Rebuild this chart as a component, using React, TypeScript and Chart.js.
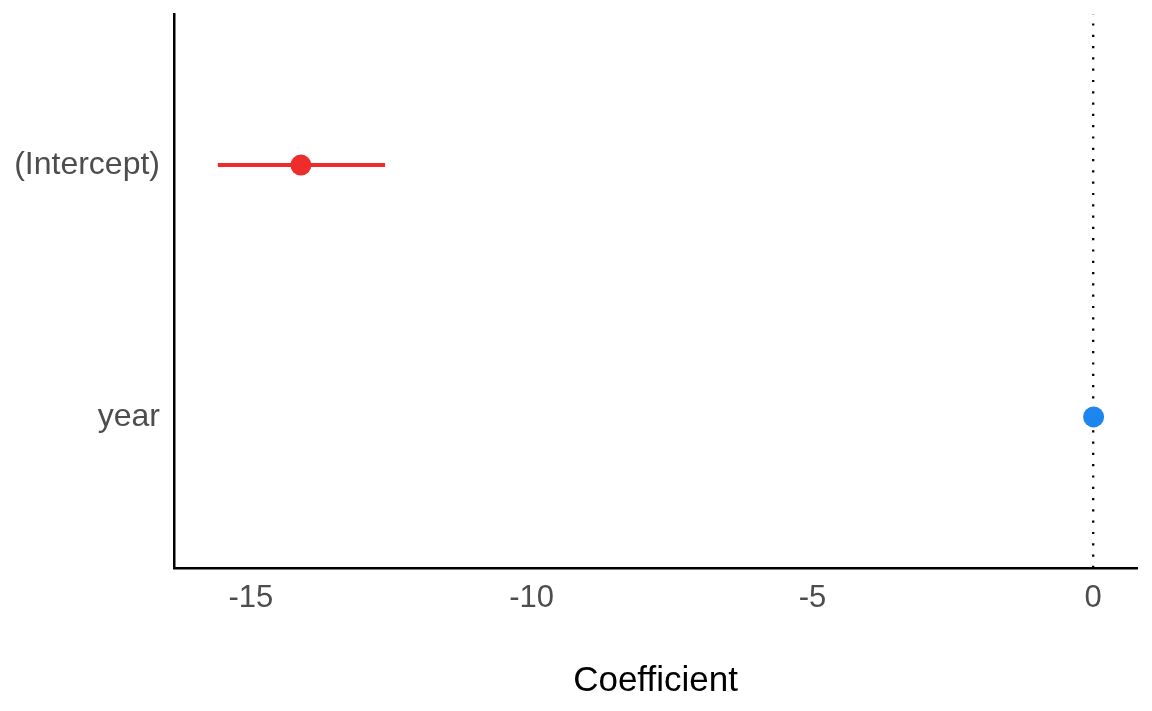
import React, { useEffect, useRef } from "react";
import { Chart, registerables } from "chart.js";

Chart.register(...registerables);

// ---- data ----
const terms = ["(Intercept)", "year"];
const estimates = [-14.11, 0.007];
const lowerCI = [-15.59, 0.0];
const upperCI = [-12.61, 0.014];
const termColors = ["#EE2C2C", "#1C86EE"];
const xTickValues = [-15, -10, -5, 0];
const xAxisMin = -16.37;
const xAxisMax = 0.78;
const refLineX = 0;
const xTitle = "Coefficient";

const FONT = "'Liberation Sans', Arial, Helvetica, sans-serif";

export default function App() {
  const ref = useRef<HTMLCanvasElement | null>(null);

  useEffect(() => {
    if (!ref.current) return;
    const yMin = 0.4;
    const yMax = terms.length + 0.6;

    const datasets: any[] = [];
    datasets.push({
      data: [
        { x: refLineX, y: yMax },
        { x: refLineX, y: yMin },
      ],
      showLine: true,
      borderColor: "#000000",
      borderWidth: 2.3,
      borderDash: [2.2, 9.1],
      pointRadius: 0,
      order: 10,
    });
    terms.forEach((t, i) => {
      datasets.push({
        data: [
          { x: lowerCI[i], y: i + 1 },
          { x: upperCI[i], y: i + 1 },
        ],
        showLine: true,
        borderColor: termColors[i],
        borderWidth: 4,
        pointRadius: 0,
        order: 5,
      });
      datasets.push({
        data: [{ x: estimates[i], y: i + 1 }],
        backgroundColor: termColors[i],
        borderWidth: 0,
        pointRadius: 10.5,
        order: 1,
      });
    });

    const chart = new Chart(ref.current, {
      type: "scatter",
      data: { datasets },
      options: {
        animation: false,
        responsive: false,
        events: [],
        layout: { padding: { top: 14, right: 15, bottom: 0, left: 0 } },
        plugins: { legend: { display: false }, tooltip: { enabled: false } },
        scales: {
          x: {
            type: "linear",
            min: xAxisMin,
            max: xAxisMax,
            afterBuildTicks: (scale: any) => {
              scale.ticks = xTickValues.map((v) => ({ value: v }));
            },
            afterFit: (scale: any) => {
              scale.height = 143;
              scale.paddingLeft = 0;
              scale.paddingRight = 0;
            },
            grid: { display: false, drawTicks: false },
            border: { display: true, color: "#000000", width: 2.5 },
            ticks: {
              padding: 12,
              color: "#4D4D4D",
              font: { family: FONT, size: 31 },
              maxRotation: 0,
              callback: (v: any) => String(v),
            },
            title: {
              display: true,
              text: xTitle,
              color: "#000000",
              font: { family: FONT, size: 35 },
              padding: { top: 0, bottom: 9 },
            },
          },
          y: {
            type: "linear",
            min: yMin,
            max: yMax,
            reverse: true,
            afterBuildTicks: (scale: any) => {
              scale.ticks = terms.map((_, i) => ({ value: i + 1 }));
            },
            afterFit: (scale: any) => {
              scale.width = 174;
              scale.paddingTop = 0;
              scale.paddingBottom = 0;
            },
            grid: { display: false, drawTicks: false },
            border: { display: true, color: "#000000", width: 2.5 },
            ticks: {
              padding: 14,
              color: "#4D4D4D",
              font: { family: FONT, size: 32 },
              callback: (v: any) => terms[Math.round(Number(v)) - 1] ?? "",
            },
          },
        },
      },
    });
    return () => chart.destroy();
  }, []);

  return (
    <div style={{ position: "absolute", left: 0, top: 0, width: 1152, height: 711, background: "#fff" }}>
      <canvas ref={ref} width={1152} height={711} style={{ width: 1152, height: 711, display: "block" }} />
    </div>
  );
}
